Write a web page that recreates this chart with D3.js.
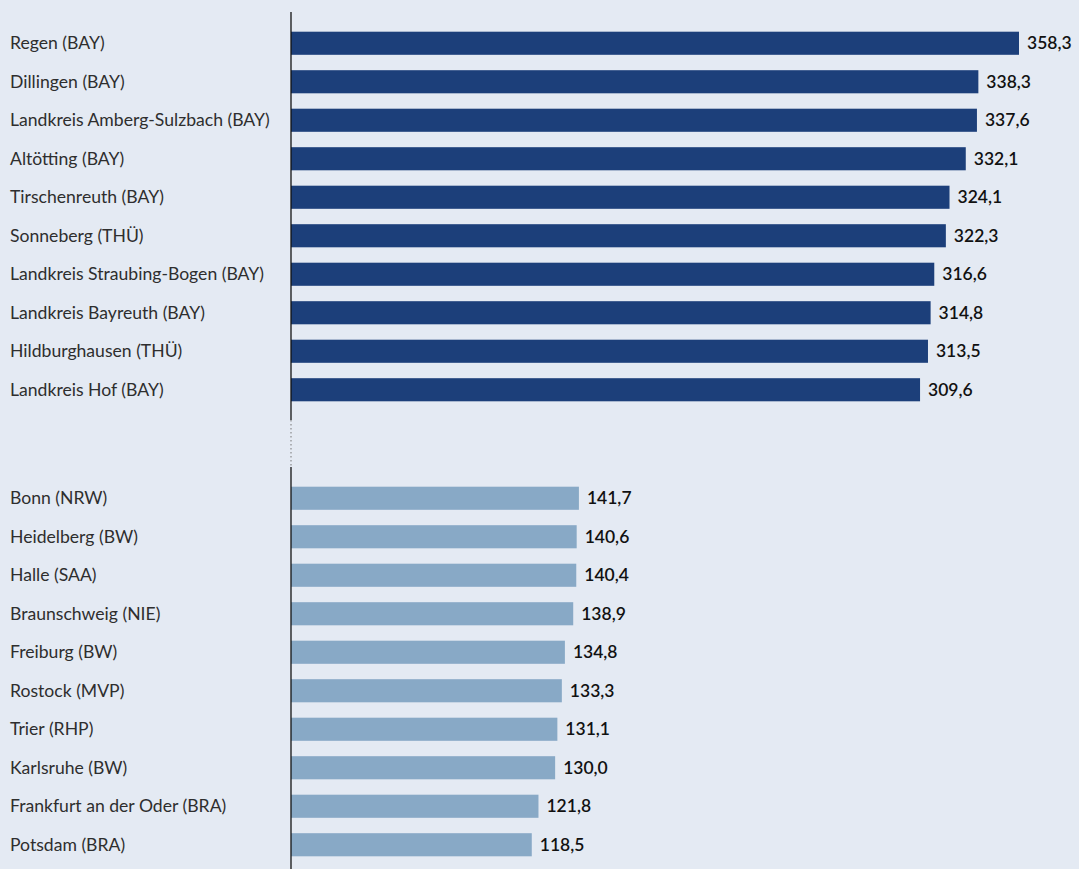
<!DOCTYPE html>
<html><head><meta charset="utf-8">
<script src="https://cdn.jsdelivr.net/npm/d3@7"></script>
<style>
html,body{margin:0;padding:0;background:#e4eaf3;}
svg{display:block;font-family:Lato,"Open Sans",sans-serif;}
</style></head>
<body><svg id="c" width="1079" height="869"></svg>
<script>
const topNames = ["Regen (BAY)","Dillingen (BAY)","Landkreis Amberg-Sulzbach (BAY)","Altötting (BAY)","Tirschenreuth (BAY)","Sonneberg (THÜ)","Landkreis Straubing-Bogen (BAY)","Landkreis Bayreuth (BAY)","Hildburghausen (THÜ)","Landkreis Hof (BAY)"];
const topValues = [358.3,338.3,337.6,332.1,324.1,322.3,316.6,314.8,313.5,309.6];
const bottomNames = ["Bonn (NRW)","Heidelberg (BW)","Halle (SAA)","Braunschweig (NIE)","Freiburg (BW)","Rostock (MVP)","Trier (RHP)","Karlsruhe (BW)","Frankfurt an der Oder (BRA)","Potsdam (BRA)"];
const bottomValues = [141.7,140.6,140.4,138.9,134.8,133.3,131.1,130.0,121.8,118.5];

const svg = d3.select("#c");
const x0 = 291;
const x = d3.scaleLinear().domain([0, 358.3]).range([x0, 1019]);
const fmt = v => d3.format(".1f")(v).replace(".", ",");

function group(names, values, y0, y1, color){
  const y = d3.scaleBand().domain(names).range([y0, y1]).paddingInner(0.4).paddingOuter(0.2);
  const data = names.map((n,i)=>({n, v: values[i]}));
  const g = svg.append("g");
  g.selectAll("rect").data(data).join("rect")
    .attr("x", x(0)).attr("y", d=>y(d.n))
    .attr("width", d=>x(d.v)-x(0)).attr("height", y.bandwidth())
    .attr("fill", color);
  g.selectAll("text.lab").data(data).join("text").attr("class","lab")
    .attr("x", 10).attr("y", d=>y(d.n)+y.bandwidth()/2)
    .attr("dy","0.35em").attr("font-size",17.6).attr("fill","#2e2e2e")
    .text(d=>d.n);
  g.selectAll("text.val").data(data).join("text").attr("class","val")
    .attr("x", d=>x(d.v)+8).attr("y", d=>y(d.n)+y.bandwidth()/2)
    .attr("dy","0.35em").attr("font-size",17.5).attr("font-weight",600).attr("fill","#111")
    .text(d=>fmt(d.v));
}
group(topNames, topValues, 24, 409, "#1c3f7a");
group(bottomNames, bottomValues, 479, 864, "#88a9c6");

svg.append("line").attr("x1",x0).attr("x2",x0).attr("y1",12).attr("y2",420).attr("stroke","#111").attr("stroke-width",1.3);
svg.append("line").attr("x1",x0).attr("x2",x0).attr("y1",420).attr("y2",467).attr("stroke","#777").attr("stroke-width",1).attr("stroke-dasharray","1.5,2.5");
svg.append("line").attr("x1",x0).attr("x2",x0).attr("y1",467).attr("y2",869).attr("stroke","#111").attr("stroke-width",1.3);
</script></body></html>
